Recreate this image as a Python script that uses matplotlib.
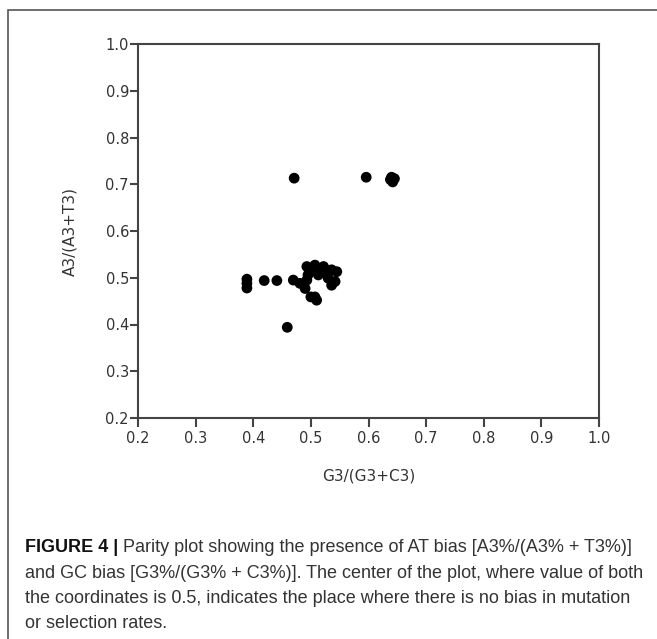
import matplotlib
matplotlib.use("Agg")
import matplotlib.pyplot as plt
from matplotlib.patches import Rectangle

# G3/(G3+C3) and A3/(A3+T3) values
gc3 = [0.471, 0.596, 0.640, 0.645, 0.642, 0.638,
       0.459,
       0.389, 0.389, 0.389, 0.419, 0.441, 0.4695, 0.481, 0.490,
       0.500, 0.507, 0.510,
       0.493, 0.507, 0.522, 0.536, 0.545, 0.495, 0.513, 0.530,
       0.542, 0.536, 0.493, 0.520, 0.503]
at3 = [0.713, 0.715, 0.715, 0.712, 0.705, 0.710,
       0.394,
       0.497, 0.488, 0.478, 0.494, 0.494, 0.495, 0.488, 0.477,
       0.459, 0.459, 0.452,
       0.524, 0.527, 0.524, 0.517, 0.513, 0.506, 0.506, 0.499,
       0.492, 0.484, 0.495, 0.512, 0.515]

ticks = [0.2, 0.3, 0.4, 0.5, 0.6, 0.7, 0.8, 0.9, 1.0]
tick_labels = ["0.2", "0.3", "0.4", "0.5", "0.6", "0.7", "0.8", "0.9", "1.0"]

caption_head = "FIGURE 4 |"
caption_lines = [
    " Parity plot showing the presence of AT bias [A3%/(A3% + T3%)]",
    "and GC bias [G3%/(G3% + C3%)]. The center of the plot, where value of both",
    "the coordinates is 0.5, indicates the place where there is no bias in mutation",
    "or selection rates.",
]

W, H = 657, 639
fig = plt.figure(figsize=(W / 100, H / 100), dpi=100)
fig.patch.set_facecolor("white")

# outer frame of the figure panel (clipped at right / bottom)
fig.add_artist(Rectangle((8 / W, -0.1), 1.2, 1.1 - 10 / H, transform=fig.transFigure,
                         fill=False, edgecolor="#555555", linewidth=1.2))

ax = fig.add_axes([138 / W, 1 - 418 / H, (599 - 138) / W, (418 - 44) / H])
ax.scatter(gc3, at3, s=60, color="black", edgecolors="none", zorder=3)

ax.set_xlim(0.2, 1.0)
ax.set_ylim(0.2, 1.0)
ax.set_xticks(ticks)
ax.set_xticklabels(tick_labels)
ax.set_yticks(ticks)
ax.set_yticklabels(tick_labels)

for s in ax.spines.values():
    s.set_color("#444444")
    s.set_linewidth(1.5)

ax.tick_params(axis="x", direction="out", length=6.5, width=1.5, color="#444444",
               labelsize=10.5, labelcolor="#333333", pad=3)
ax.tick_params(axis="y", direction="out", length=5.5, width=1.5, color="#444444",
               labelsize=10.5, labelcolor="#333333", pad=1)

ax.set_xlabel("G3/(G3+C3)", fontsize=11, color="#333333")
ax.set_ylabel("A3/(A3+T3)", fontsize=11, color="#333333")
ax.xaxis.set_label_coords(0.501, -0.135)
ax.yaxis.set_label_coords(-0.132, 0.5)

# caption
cap_font = ["Liberation Sans", "DejaVu Sans"]
y0 = 548
step = 25.3
head = fig.text(25 / W, 1 - y0 / H, caption_head, fontsize=13, weight="bold",
                family=cap_font, color="#111111", va="center", ha="left")
fig.canvas.draw()
bb = head.get_window_extent(renderer=fig.canvas.get_renderer())
fig.text(bb.x1 / W, 1 - y0 / H, caption_lines[0], fontsize=13, family=cap_font,
         color="#333333", va="center", ha="left")
for i, line in enumerate(caption_lines[1:], start=1):
    fig.text(25 / W, 1 - (y0 + i * step) / H, line, fontsize=13, family=cap_font,
             color="#333333", va="center", ha="left")

fig.savefig("out.png", dpi=100)
